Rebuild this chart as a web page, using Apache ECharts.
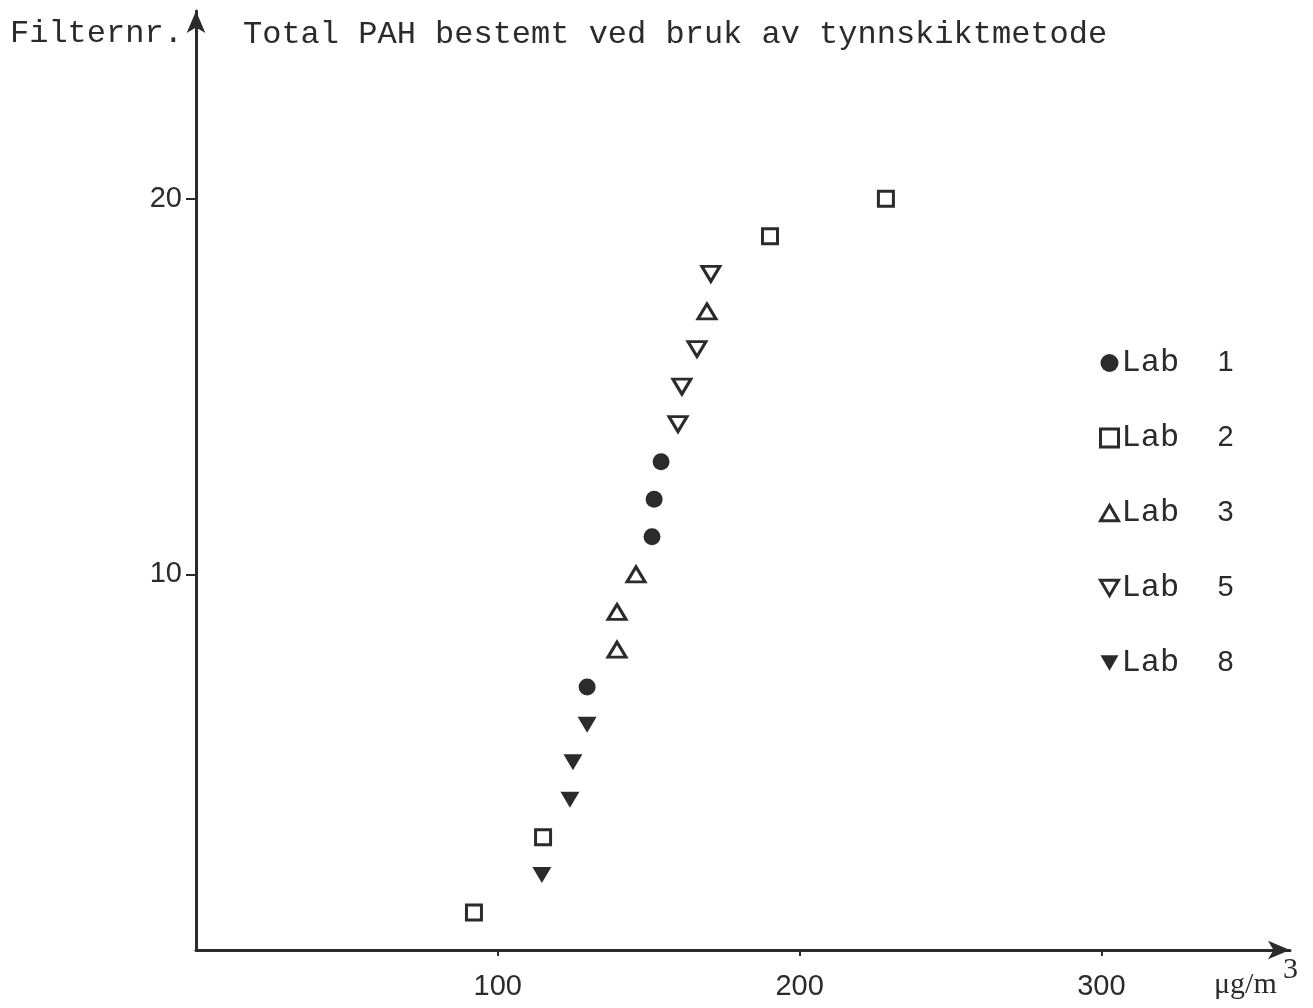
<!DOCTYPE html>
<html><head><meta charset="utf-8">
<script src="https://cdn.jsdelivr.net/npm/echarts@6/dist/echarts.min.js"></script>
<style>html,body{margin:0;padding:0;background:#fff}#c{width:1313px;height:1008px}</style>
</head><body><div id="c"></div>
<script>
// Filter number (y) vs total PAH in µg/m3 (x), per lab
const lab1 = [[129.6, 7], [151.1, 11], [151.8, 12], [154.1, 13]];
const lab2 = [[92.1, 1], [115.0, 3], [190.2, 19], [228.6, 20]];
const lab3 = [[139.5, 8], [139.5, 9], [145.8, 10], [169.3, 17]];
const lab5 = [[159.7, 14], [161.0, 15], [166.0, 16], [170.6, 18]];
const lab8 = [[114.6, 2], [123.9, 4], [124.9, 5], [129.6, 6]];
const labNames = ['Lab 1', 'Lab 2', 'Lab 3', 'Lab 5', 'Lab 8'];
const xTicks = [100, 200, 300];
const yTicks = [10, 20];

const ink = '#2b2b2b';
const mono = '"Liberation Mono", "DejaVu Sans Mono", monospace';
const sans = '"Liberation Sans", "DejaVu Sans", sans-serif';
const down = 'path://M0,0 L20,0 L10,17 Z';
const up = 'path://M10,0 L20,17 L0,17 Z';

const chart = echarts.init(document.getElementById('c'));
const mk = (name, data, symbol, size, filled) => ({
  name, type: 'scatter', data, symbol, symbolSize: size,
  itemStyle: filled ? { color: ink, opacity: 1 } : { color: '#fff', borderColor: ink, borderWidth: 3, opacity: 1 }
});
const openNames = [labNames[1], labNames[2], labNames[3]];
chart.setOption({
  animation: false,
  backgroundColor: '#fff',
  grid: { left: 196, top: 11, width: 1094, height: 939 },
  xAxis: {
    type: 'value', min: 0, max: 362.5, interval: 100,
    axisLine: { lineStyle: { color: ink, width: 3 }, symbol: ['none', 'arrow'], symbolSize: [14, 22] },
    axisTick: { show: true, length: 6, lineStyle: { color: ink, width: 2 } },
    splitLine: { show: false },
    axisLabel: { showMinLabel: false, showMaxLabel: false, margin: 22, color: ink, fontFamily: sans, fontSize: 29,
      formatter: v => xTicks.includes(v) ? String(v) : '' }
  },
  yAxis: {
    type: 'value', min: 0, max: 25, interval: 10,
    axisLine: { lineStyle: { color: ink, width: 3 }, symbol: ['none', 'arrow'], symbolSize: [14, 22] },
    axisTick: { show: true, length: 10, lineStyle: { color: ink, width: 2 } },
    splitLine: { show: false },
    axisLabel: { showMinLabel: false, showMaxLabel: false, margin: 14, color: ink, fontFamily: sans, fontSize: 29,
      formatter: v => yTicks.includes(v) ? String(v) : '' }
  },
  legend: {
    orient: 'vertical', left: 1094, top: 341, itemGap: 41, itemWidth: 18, itemHeight: 18,
    data: labNames.map(n => openNames.includes(n)
      ? { name: n, itemStyle: { borderWidth: 3, borderColor: ink, color: '#fff' } } : n),
    formatter: n => '{a|Lab}{b|' + n.split(' ')[1] + '}',
    textStyle: { color: ink, lineHeight: 34, padding: [0, 0, 0, -2],
      rich: { a: { fontFamily: mono, fontSize: 32, color: ink, width: 96 }, b: { fontFamily: sans, fontSize: 29, color: ink } } }
  },
  graphic: [
    { type: 'text', left: 10, top: 18, style: { text: 'Filternr.', font: '32px ' + mono, fill: ink } },
    { type: 'text', left: 243, top: 19, style: { text: 'Total PAH bestemt ved bruk av tynnskiktmetode', font: '32px ' + mono, fill: ink } },
    { type: 'text', left: 1214, top: 970, style: { text: 'μg/m', font: '30px "Liberation Serif", serif', fill: ink } },
    { type: 'text', left: 1283, top: 955, style: { text: '3', font: '30px "Liberation Serif", serif', fill: ink } }
  ],
  series: [
    mk(labNames[0], lab1, 'circle', 17, true),
    mk(labNames[1], lab2, 'rect', 15, false),
    mk(labNames[2], lab3, up, [18, 15], false),
    mk(labNames[3], lab5, down, [18, 15], false),
    mk(labNames[4], lab8, down, [19, 16], true)
  ]
});
</script></body></html>
